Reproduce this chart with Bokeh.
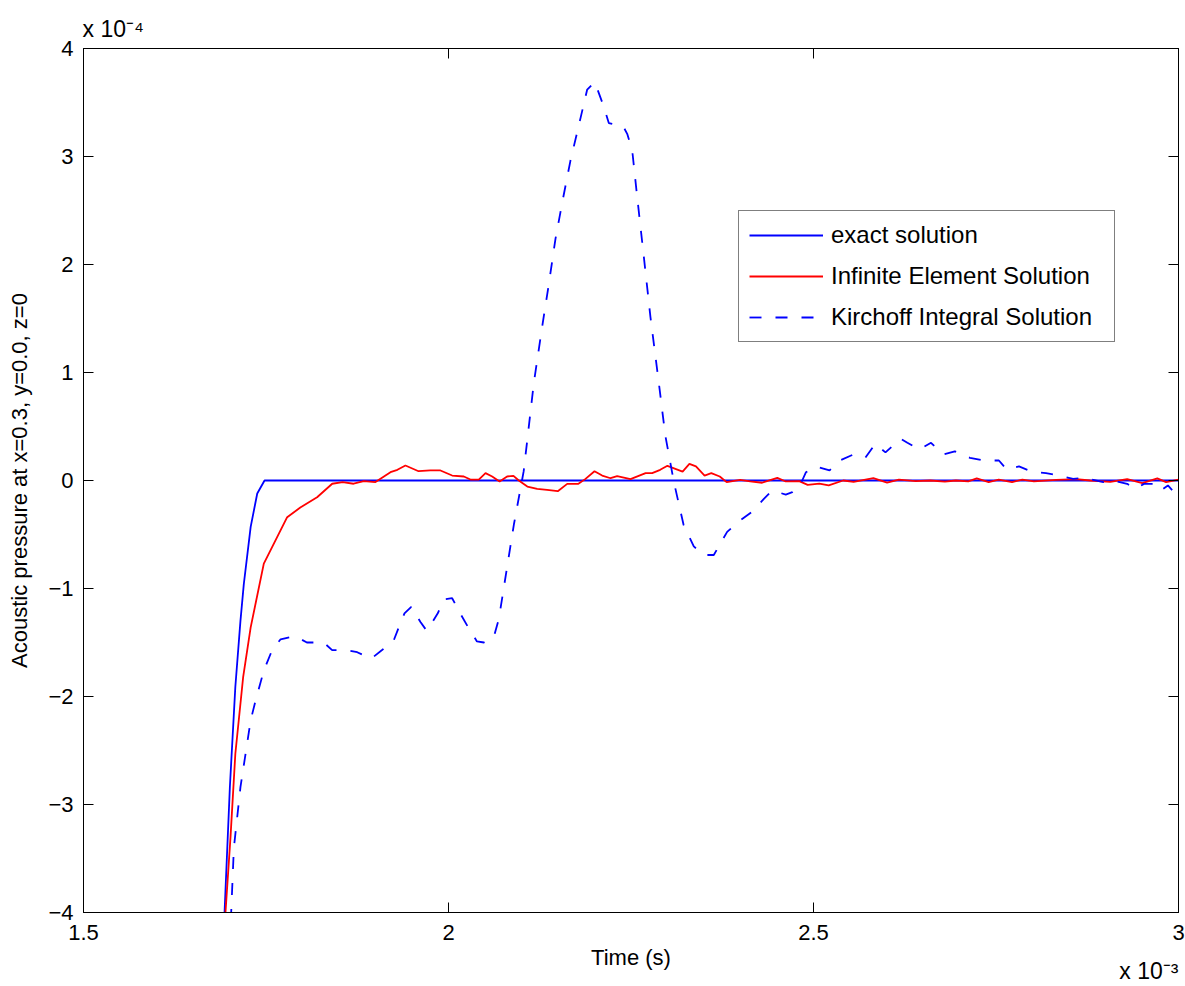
from bokeh.plotting import figure
from bokeh.models import (Range1d, LinearAxis, FixedTicker, CustomJSTickFormatter,
                          Title, Legend, LegendItem)
from bokeh.embed import file_html
from bokeh.resources import INLINE

# time in units of 1e-3 s, pressure in units of 1e-4
exact_t = [1.688, 1.6932, 1.7005, 1.708, 1.715, 1.7196, 1.729, 1.738, 1.748, 3.0]
exact_p = [-4.8, -4.0, -2.84, -1.91, -1.30, -0.96, -0.43, -0.12, 0.0, 0.0]

ie_t = [1.688, 1.6945, 1.7014, 1.708, 1.7187, 1.729, 1.747, 1.779, 1.797, 1.820,
        1.8407, 1.855, 1.870, 1.884, 1.900, 1.9205, 1.930, 1.941, 1.959, 1.975,
        1.989, 2.005, 2.021, 2.030, 2.0415, 2.0507, 2.0598, 2.070, 2.0803, 2.089,
        2.0963, 2.108, 2.1215, 2.135, 2.1497, 2.1626, 2.178, 2.1877, 2.200, 2.2105,
        2.222, 2.231, 2.2493, 2.270, 2.279, 2.290, 2.2999, 2.3207, 2.330, 2.339,
        2.3508, 2.360, 2.3716, 2.381, 2.3995, 2.4133, 2.4296, 2.4504, 2.462, 2.4804,
        2.492, 2.508, 2.5208, 2.5407, 2.555, 2.582, 2.6008, 2.617, 2.640, 2.660,
        2.680, 2.695, 2.712, 2.7236, 2.740, 2.7537, 2.772, 2.786, 2.802, 2.8325,
        2.860, 2.8788, 2.9066, 2.9297, 2.9505, 2.971, 2.983, 3.0]
ie_p = [-4.45, -4.0, -3.30, -2.53, -1.82, -1.36, -0.77, -0.34, -0.25, -0.155,
        -0.03, -0.015, -0.03, -0.006, -0.015, 0.077, 0.099, 0.139, 0.086, 0.093,
        0.093, 0.046, 0.037, 0.009, 0.009, 0.068, 0.037, -0.009, 0.037, 0.043,
        0.0, -0.056, -0.077, -0.086, -0.099, -0.031, -0.031, 0.015, 0.086, 0.046,
        0.021, 0.040, 0.012, 0.068, 0.068, 0.099, 0.136, 0.083, 0.154, 0.130,
        0.046, 0.068, 0.037, -0.015, 0.006, -0.009, -0.021, 0.025, -0.009, -0.006,
        -0.040, -0.028, -0.046, 0.0, -0.012, 0.021, -0.019, 0.009, -0.006, 0.0,
        -0.010, 0.0, -0.009, 0.019, -0.015, 0.009, -0.015, 0.009, -0.009, 0.006,
        0.012, 0.0, -0.012, 0.012, -0.025, 0.019, -0.015, 0.009]

ki_t = [1.697, 1.7023, 1.706, 1.715, 1.722, 1.729, 1.7356, 1.747, 1.7584, 1.770,
        1.790, 1.806, 1.829, 1.8406, 1.8589, 1.875, 1.894, 1.909, 1.925, 1.933,
        1.9397, 1.949, 1.9616, 1.970, 1.9753, 1.9853, 1.9936, 2.005, 2.016, 2.0278,
        2.039, 2.0484, 2.062, 2.069, 2.0895, 2.103, 2.117, 2.128, 2.137, 2.1466,
        2.1557, 2.167, 2.181, 2.190, 2.2004, 2.2128, 2.2196, 2.2393, 2.2448, 2.2516,
        2.2584, 2.2676, 2.2767, 2.288, 2.297, 2.3087, 2.322, 2.336, 2.3497, 2.3634,
        2.3817, 2.3995, 2.4156, 2.432, 2.4434, 2.462, 2.471, 2.4804, 2.4897, 2.5037,
        2.522, 2.536, 2.5545, 2.5708, 2.5846, 2.5986, 2.6194, 2.6286, 2.645, 2.661,
        2.6773, 2.6936, 2.7144, 2.733, 2.754, 2.765, 2.7815, 2.7977, 2.8185, 2.837,
        2.8556, 2.8694, 2.8973, 2.911, 2.9297, 2.941, 2.9528, 2.9666, 2.976, 2.9855,
        3.0]
ki_p = [-4.8, -4.0, -3.40, -2.84, -2.53, -2.22, -2.04, -1.76, -1.57, -1.47,
        -1.44, -1.50, -1.50, -1.57, -1.57, -1.59, -1.65, -1.57, -1.48, -1.34,
        -1.23, -1.17, -1.31, -1.39, -1.34, -1.23, -1.10, -1.09, -1.23, -1.37,
        -1.49, -1.50, -1.45, -1.28, -0.41, 0.086, 0.91, 1.41, 1.80, 2.24,
        2.57, 2.96, 3.36, 3.62, 3.69, 3.46, 3.31, 3.28, 3.21, 3.06,
        2.63, 2.07, 1.51, 0.91, 0.417, -0.013, -0.41, -0.61, -0.69, -0.69,
        -0.476, -0.37, -0.29, -0.17, -0.093, -0.13, -0.108, -0.062, 0.077, 0.13,
        0.093, 0.185, 0.24, 0.21, 0.34, 0.26, 0.386, 0.349, 0.287, 0.349,
        0.24, 0.27, 0.21, 0.185, 0.185, 0.10, 0.13, 0.086, 0.068, 0.046,
        0.015, 0.025, -0.015, 0.0, -0.031, -0.077, -0.031, -0.031, -0.093, -0.046,
        -0.155]

x_ticks = [1.5, 2.0, 2.5, 3.0]
y_ticks = [-4, -3, -2, -1, 0, 1, 2, 3, 4]
legend_labels = ["exact solution", "Infinite Element Solution", "Kirchoff Integral Solution"]
x_label = "Time (s)"
y_label = "Acoustic pressure at x=0.3, y=0.0, z=0"
x_exponent = "x 10\u207b\u00b3"
y_exponent = "x 10\u207b\u2074"

FONT = "Liberation Sans"

p = figure(width=1185, height=986, output_backend="svg", toolbar_location=None,
           x_range=Range1d(1.5, 3.0), y_range=Range1d(-4, 4),
           min_border_left=83, min_border_right=7, min_border_top=48, min_border_bottom=74,
           y_axis_label=y_label)
p.xgrid.visible = False
p.ygrid.visible = False
p.outline_line_color = "black"
p.outline_line_width = 1
p.background_fill_color = "white"
p.border_fill_color = "white"

fmt = CustomJSTickFormatter(code="return String(tick).replace('-', '\u2212');")
blank = CustomJSTickFormatter(code="return '';")

def style_axis(ax, labels=True):
    ax.axis_line_color = "black"
    ax.axis_line_width = 1
    ax.major_tick_in = 10
    ax.major_tick_out = 0
    ax.major_tick_line_color = "black"
    ax.major_tick_line_width = 1
    ax.minor_tick_line_color = None
    ax.major_label_text_font = FONT
    ax.major_label_text_color = "black"
    if labels:
        ax.major_label_text_font_size = "22px"
        ax.formatter = fmt
    else:
        ax.major_label_text_font_size = "1px"
        ax.major_label_standoff = 0
        ax.formatter = blank
    ax.axis_label_text_font = FONT
    ax.axis_label_text_font_size = "22px"
    ax.axis_label_text_font_style = "normal"
    ax.axis_label_text_color = "black"

xax = p.xaxis[0]
yax = p.yaxis[0]
xax.ticker = FixedTicker(ticks=x_ticks)
yax.ticker = FixedTicker(ticks=y_ticks)
style_axis(xax)
style_axis(yax)
xax.major_label_standoff = 12
yax.major_label_standoff = 10
yax.axis_label_standoff = 13

top = LinearAxis(ticker=FixedTicker(ticks=x_ticks))
right = LinearAxis(ticker=FixedTicker(ticks=y_ticks))
style_axis(top, labels=False)
style_axis(right, labels=False)
p.add_layout(top, "above")
p.add_layout(right, "right")

r1 = p.line(exact_t, exact_p, line_color="#0000ff", line_width=1.8)
r2 = p.line(ie_t, ie_p, line_color="#ff0000", line_width=1.8)
r3 = p.line(ki_t, ki_p, line_color="#0000ff", line_width=1.8, line_dash="12 14")

legend = Legend(items=[LegendItem(label=legend_labels[0], renderers=[r1]),
                       LegendItem(label=legend_labels[1], renderers=[r2]),
                       LegendItem(label=legend_labels[2], renderers=[r3])],
                location=(655, 570), label_text_font=FONT, label_text_font_size="24px",
                label_text_color="black", glyph_width=74, glyph_height=26, label_height=26,
                label_width=273, spacing=13, padding=10, margin=0, label_standoff=8,
                border_line_color="black", border_line_width=1,
                background_fill_color="white", background_fill_alpha=1)
p.add_layout(legend)

# texts outside the frame: placed as titles in the side panels
p.add_layout(Title(text=y_exponent, align="left", offset=-1, standoff=14,
                   vertical_align="bottom",
                   text_font=FONT, text_font_size="23px", text_font_style="normal",
                   text_color="black"), "above")
p.add_layout(Title(text=x_label, align="center", standoff=0, vertical_align="bottom",
                   text_font=FONT, text_font_size="22px", text_font_style="normal",
                   text_color="black"), "below")
p.add_layout(Title(text=x_exponent, align="right", offset=0, standoff=-24,
                   vertical_align="top",
                   text_font=FONT, text_font_size="23px", text_font_style="normal",
                   text_color="black"), "below")

open("out.html", "w").write(file_html(p, INLINE))
